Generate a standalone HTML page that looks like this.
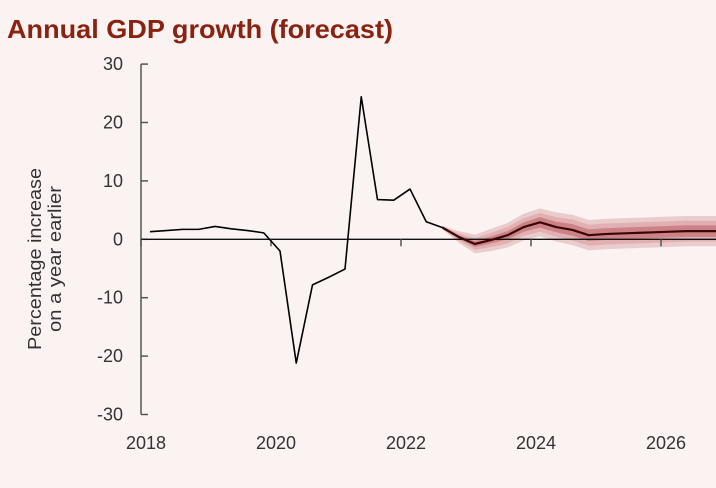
<!DOCTYPE html>
<html><head><meta charset="utf-8"><style>
html,body{margin:0;padding:0;background:#fbf3f2;}
svg{display:block;font-family:"Liberation Sans",sans-serif;}
</style></head><body>
<svg id="chart" width="716" height="488" viewBox="0 0 716 488">
<rect width="716" height="488" fill="#fbf3f2"/>
<text x="7" y="38" font-size="26" font-weight="bold" fill="#8a2211" textLength="386" lengthAdjust="spacingAndGlyphs">Annual GDP growth (forecast)</text>
<g transform="translate(46,259) rotate(-90)" font-size="18" fill="#333" text-anchor="middle">
<text y="-5" textLength="182" lengthAdjust="spacingAndGlyphs">Percentage increase</text><text y="15" textLength="146" lengthAdjust="spacingAndGlyphs">on a year earlier</text></g>
<g id="bands"></g>
<g id="axes"></g>
<g id="lines"></g>
</svg>
<script>
const yTicks=[30,20,10,0,-10,-20,-30];
const xTickYears=[2018,2020,2022,2024,2026];
const actual=[1.3,1.5,1.7,1.7,2.2,1.8,1.5,1.1,-2.0,-21.2,-7.8,-6.5,-5.1,24.4,6.8,6.7,8.6,3.0,2.0];
const forecastStart=18;
const forecast=[2.0,0.4,-0.8,-0.1,0.7,2.1,2.9,2.1,1.6,0.7,0.9,1.0,1.1,1.2,1.3,1.4,1.4,1.4];
const bandOuter=[0.3,1.0,1.6,1.9,2.1,2.3,2.4,2.5,2.6,2.6,2.6,2.6,2.6,2.6,2.6,2.6,2.6,2.6];
const bandMid=[0.2,0.6,1.0,1.2,1.4,1.5,1.6,1.7,1.8,1.8,1.8,1.8,1.8,1.8,1.8,1.8,1.8,1.8];
const bandInner=[0.1,0.3,0.5,0.6,0.7,0.8,0.9,0.9,1.0,1.0,1.0,1.0,1.0,1.0,1.0,1.0,1.0,1.0];
const NS='http://www.w3.org/2000/svg';
const X0=141,PX_YEAR=65;
const yS=v=>239.3-v*5.84;
const xYear=y=>X0+(y-2018)*PX_YEAR;
const xQ=i=>150+i*16.25;
function mk(tag,attrs,parent){const e=document.createElementNS(NS,tag);for(const k in attrs)e.setAttribute(k,attrs[k]);parent.appendChild(e);return e;}
const axes=document.getElementById('axes'),bands=document.getElementById('bands'),lines=document.getElementById('lines');
let ax=mk('line',{x1:X0,x2:X0,y1:yS(30),y2:yS(-30),stroke:'#555','stroke-width':1.5},axes);

yTicks.forEach(v=>{
 let t=mk('line',{x1:X0,x2:X0+7,y1:yS(v),y2:yS(v),stroke:'#555','stroke-width':1.5},axes);
 
 let l=mk('text',{x:X0-18,y:yS(v)+6,'font-size':18,fill:'#333','text-anchor':'end'},axes);
 l.textContent=v;
 
});
let zl=mk('line',{x1:X0,x2:716,y1:yS(0),y2:yS(0),stroke:'#111','stroke-width':1.3},axes);

xTickYears.forEach(y=>{
 let t=mk('line',{x1:xYear(y),x2:xYear(y),y1:yS(0),y2:yS(0)+7,stroke:'#555','stroke-width':1.5},axes);
 
 let l=mk('text',{x:xYear(y)+5,y:449,'font-size':18,fill:'#333','text-anchor':'middle'},axes);
 l.textContent=y;
 
});
function band(w,fill,name){
 let up=[],dn=[];
 forecast.forEach((v,k)=>{const x=xQ(forecastStart+k);up.push(x+','+yS(v+w[k]));dn.unshift(x+','+yS(v-w[k]));});
 let p=mk('polygon',{points:up.concat(dn).join(' '),fill:fill},bands);
 
}
band(bandOuter,'#ebcccc','band-outer');
band(bandMid,'#e0b0b2','band-middle');
band(bandInner,'#cd8286','band-inner');
let a=mk('polyline',{points:actual.map((v,i)=>xQ(i)+','+yS(v)).join(' '),fill:'none',stroke:'#000','stroke-width':1.6,'stroke-linejoin':'round'},lines);

let f=mk('polyline',{points:forecast.map((v,k)=>xQ(forecastStart+k)+','+yS(v)).join(' '),fill:'none',stroke:'#3a0508','stroke-width':2.2,'stroke-linejoin':'round'},lines);

</script>
</body></html>
